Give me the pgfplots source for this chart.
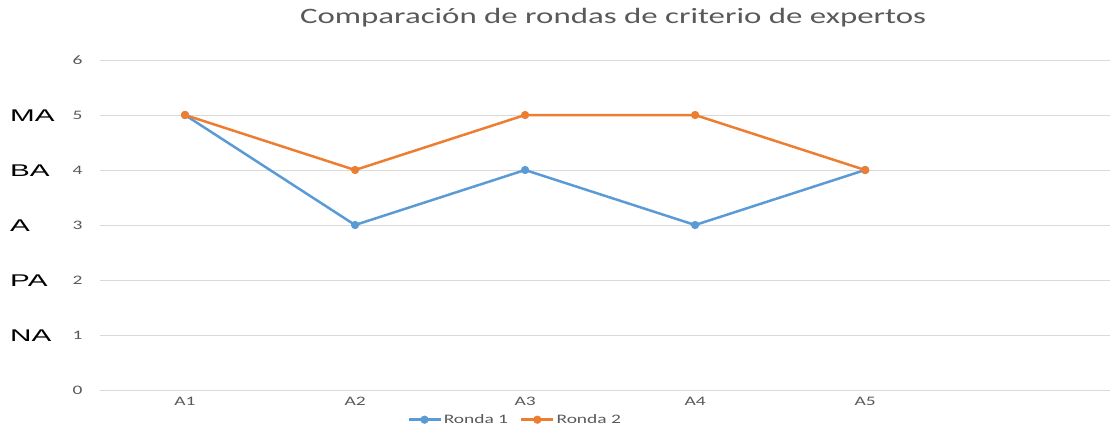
\documentclass[border=0pt]{standalone}
\usepackage{fontspec}
\setmainfont[FakeStretch=1.5]{Carlito}
\newfontfamily\labelfont[FakeStretch=1.75]{Liberation Sans}
\usepackage{pgfplots}
\pgfplotsset{compat=1.18}
\definecolor{rblue}{HTML}{5B9BD5}
\definecolor{rorange}{HTML}{ED7D31}
\definecolor{txtgray}{HTML}{595959}
\definecolor{gridgray}{HTML}{D9D9D9}
\begin{document}
\begin{tikzpicture}
\path[use as bounding box] (-100bp,-35bp) rectangle (1010bp,390bp);
\begin{axis}[
  at={(0,0)}, anchor=south west,
  scale only axis, width=1010bp, height=330bp,
  xmin=-0.5, xmax=5.44, ymin=0, ymax=6,
  xtick={0,1,2,3,4}, xticklabels={A1,A2,A3,A4,A5},
  ytick={0,1,2,3,4,5,6},
  ymajorgrids, grid style={gridgray, line width=1bp},
  axis line style={draw=none},
  major tick length=0pt,
  tick label style={font=\fontsize{13}{15}\selectfont, text=txtgray},
  /pgf/number format/assume math mode=true,
  yticklabel style={xshift=-14bp},
  xticklabel style={yshift=-4bp},
  title={Comparación de rondas de criterio de expertos},
  title style={at={(axis description cs:0.508,1)}, anchor=center, yshift=36bp,
    font=\fontsize{22}{26}\selectfont, text=txtgray},
  legend style={at={(axis description cs:0.411,-0.09)}, anchor=center, draw=none,
    fill=none, font=\fontsize{13}{15}\selectfont, text=txtgray,
    /tikz/every even column/.append style={column sep=10bp}},
  legend columns=2,
  legend image code/.code={\draw[mark repeat=2,mark phase=2,#1] plot coordinates {(0bp,0bp)(16bp,0bp)(32bp,0bp)};},
  clip=false,
]
\addplot[rblue, line width=2.5bp, mark=*, mark size=2.8bp] coordinates {(0,5) (1,3) (2,4) (3,3) (4,4)};
\addlegendentry{Ronda 1}
\addplot[rorange, line width=2.5bp, mark=*, mark size=2.8bp] coordinates {(0,5) (1,4) (2,5) (3,5) (4,4)};
\addlegendentry{Ronda 2}
\foreach \v/\t in {5/MA,4/BA,3/A,2/PA,1/NA}{
  \edef\tmp{\noexpand\node[anchor=west, inner sep=0pt, font=\noexpand\labelfont\noexpand\fontsize{17}{19}\noexpand\selectfont, text=black, xshift=-90bp, yshift=-1bp] at (axis cs:-0.5,\v) {\t};}
  \tmp
}
\end{axis}
\end{tikzpicture}
\end{document}
